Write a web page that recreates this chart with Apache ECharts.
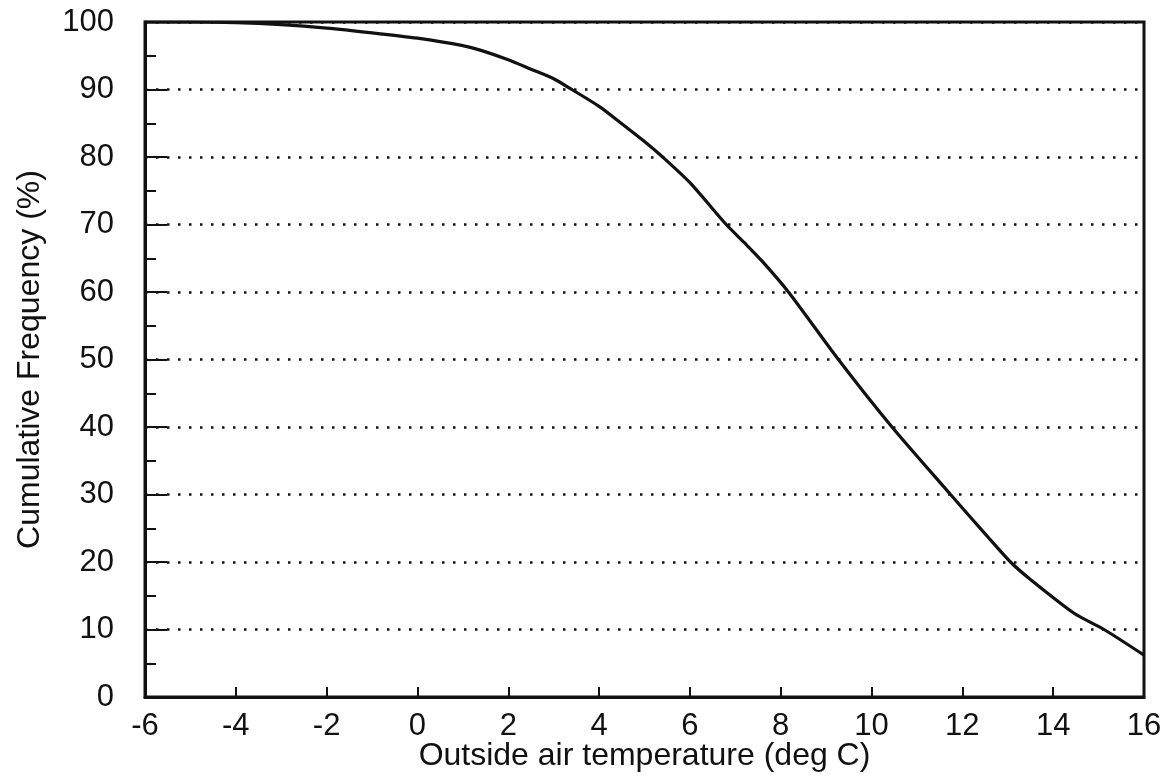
<!DOCTYPE html>
<html>
<head>
<meta charset="utf-8">
<script src="https://cdn.jsdelivr.net/npm/echarts@6/dist/echarts.min.js"></script>
<style>
html,body{margin:0;padding:0;background:#fff;}
#chart{width:1168px;height:783px;}
</style>
</head>
<body>
<div id="chart"></div>
<script>
const temperature = [-6, -5, -4, -3, -2, -1, 0, 1, 1.4, 2, 2.5, 3, 3.4, 4, 4.45, 5, 5.4, 6, 6.8, 7.2, 7.6, 8.17, 9.27, 10.45, 11.74, 12.55, 13.06, 13.5, 14.46, 15.12, 16];
const cumFreq     = [100, 100, 99.9, 99.6, 99.1, 98.4, 97.6, 96.5, 95.8, 94.4, 93.0, 91.6, 90.0, 87.5, 85.2, 82.3, 80.0, 76.2, 70.0, 67.3, 64.5, 60.0, 50.0, 40.0, 30.0, 23.8, 20.0, 17.4, 12.4, 10.0, 6.2];
const xTicks = [-6, 16, 2];
const yTicks = [0, 100, 10];
const xTitle = 'Outside air temperature (deg C)';
const yTitle = 'Cumulative Frequency (%)';

const ink = '#111';
const font = '"Liberation Sans", Arial, Helvetica, sans-serif';
const chart = echarts.init(document.getElementById('chart'));
chart.setOption({
  backgroundColor: '#fff',
  animation: false,
  grid: {left: 145, right: 24, top: 22, bottom: 86, containLabel: false, outerBoundsMode: 'none',
         show: true, borderColor: ink, borderWidth: 3, backgroundColor: 'transparent'},
  xAxis: {
    type: 'value', min: xTicks[0], max: xTicks[1], interval: xTicks[2],
    name: xTitle, nameLocation: 'middle', nameGap: 43, nameMoveOverlap: false,
    nameTextStyle: {fontFamily: font, fontSize: 32, color: ink},
    axisLine: {show: true, onZero: false, lineStyle: {color: ink, width: 3}},
    axisTick: {show: true, inside: true, length: 10, lineStyle: {color: ink, width: 2}},
    axisLabel: {fontFamily: font, fontSize: 31, color: ink, margin: 14},
    splitLine: {show: false}
  },
  yAxis: {
    type: 'value', min: yTicks[0], max: yTicks[1], interval: yTicks[2],
    name: yTitle, nameLocation: 'middle', nameGap: 99,
    nameTextStyle: {fontFamily: font, fontSize: 32, color: ink},
    axisLine: {show: true, onZero: false, lineStyle: {color: ink, width: 3}},
    axisTick: {show: true, inside: true, length: 22, lineStyle: {color: ink, width: 2}},
    minorTick: {show: true, splitNumber: 2, length: 11, lineStyle: {color: ink, width: 2}},
    axisLabel: {fontFamily: font, fontSize: 31, color: ink, margin: 31},
    splitLine: {show: true, lineStyle: {color: ink, width: 2.5, type: [2.5, 8.5]}}
  },
  series: [{
    type: 'line',
    data: temperature.map((t, i) => [t, cumFreq[i]]),
    showSymbol: false,
    smooth: 0.25,
    lineStyle: {color: ink, width: 3.2},
    z: 5
  }]
});
</script>
</body>
</html>
